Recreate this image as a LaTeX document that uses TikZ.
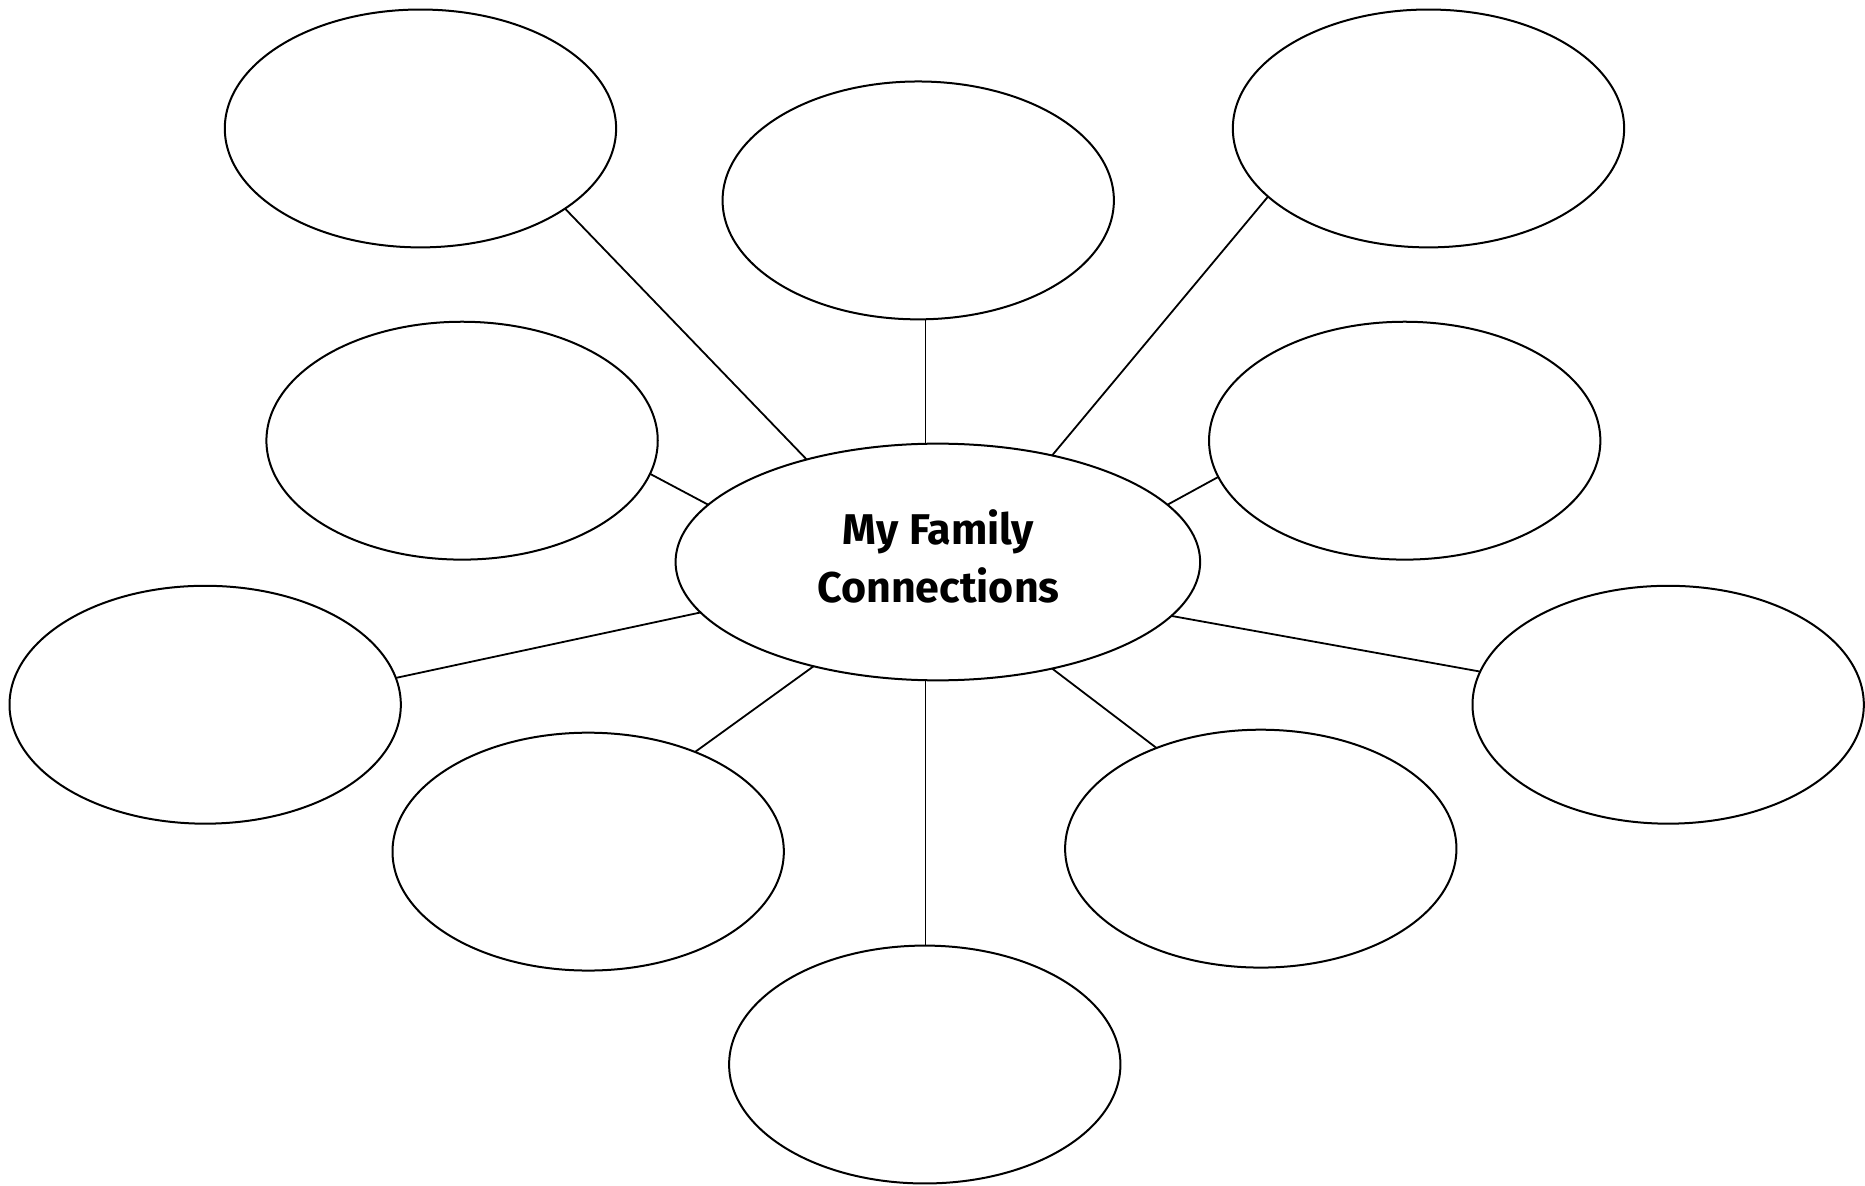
\documentclass[tikz,border=0pt]{standalone}
\usepackage{fontspec}
\setmainfont{Fira Sans}
\usetikzlibrary{shapes.geometric}
\begin{document}
\begin{tikzpicture}[x=0.5947pt,y=-0.5947pt,
  bubble/.style={ellipse,draw=black,line width=1pt,inner sep=0pt,outer sep=0pt,
    minimum width=329*0.5947pt,minimum height=200*0.5947pt},
  hub/.style={ellipse,draw=black,line width=1pt,inner sep=0pt,outer sep=0pt,
    minimum width=441*0.5947pt,minimum height=199*0.5947pt},
  title/.style={align=center,inner sep=0pt,
    font=\fontsize{21.5}{28.8}\selectfont\bfseries},
  link/.style={draw=black,line width=0.9pt}]
\useasboundingbox[fill=white] (0,0) rectangle (1568,996.3);
\node[hub] (C) at (788.5,472.5) {};
\node[title] (T) at (789,468) {My Family\\Connections};
\node[bubble] (E1) at (353.5,108) {};
\node[bubble] (E2) at (772,168.5) {};
\node[bubble] (E3) at (1201,108) {};
\node[bubble] (E4) at (388.5,370.5) {};
\node[bubble] (E5) at (1181,370.5) {};
\node[bubble] (E7) at (172.5,592.5) {};
\node[bubble] (E8) at (1402.5,592.5) {};
\node[bubble] (E9) at (494.5,716) {};
\node[bubble] (E10) at (1060,713.5) {};
\node[bubble] (E11) at (777.5,895) {};
\draw[link] (E1.331.4) -- (C.142.2);
\draw[link] (C.96) -- (C.96 |- E2.south);
\draw[link] (E3.203.1) -- (C.43.5);
\draw[link] (E4.350.9) -- (C.166.7);
\draw[link] (E5.191.3) -- (C.14.3);
\draw[link] (E7.8.4) -- (C.192.8);
\draw[link] (E8.170.9) -- (C.347.7);
\draw[link] (E9.43.2) -- (C.220.3);
\draw[link] (E10.136.8) -- (C.317.5);
\draw[link] (C.264) -- (C.264 |- E11.north);
\end{tikzpicture}
\end{document}
